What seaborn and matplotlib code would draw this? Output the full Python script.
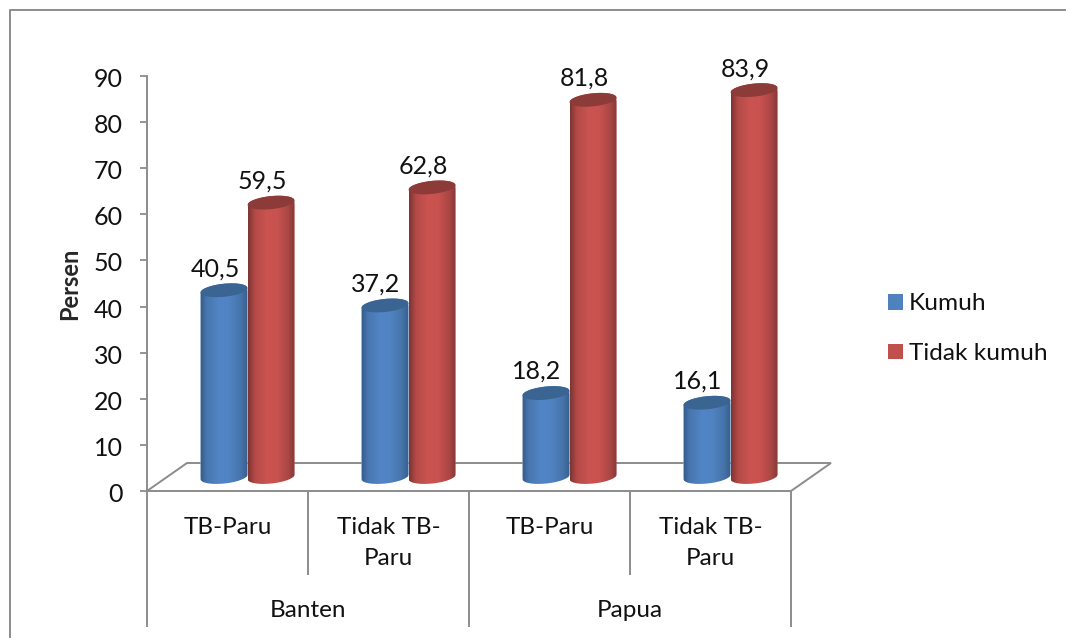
import matplotlib
matplotlib.use("Agg")
import matplotlib.pyplot as plt
import numpy as np
import pandas as pd
import seaborn as sns
from matplotlib.colors import LinearSegmentedColormap
from matplotlib.lines import Line2D
from matplotlib.patches import Patch, Polygon
from matplotlib.path import Path
from matplotlib.transforms import IdentityTransform, ScaledTranslation

provinces = ["Banten", "Papua"]
status = ["TB-Paru", "Tidak TB-\nParu", "TB-Paru", "Tidak TB-\nParu"]
kumuh = [40.5, 37.2, 18.2, 16.1]
tidak_kumuh = [59.5, 62.8, 81.8, 83.9]
series_names = ["Kumuh", "Tidak kumuh"]
y_ticks = list(range(0, 100, 10))

GREY = "#8c8c8c"
W, H = 1066, 638
AX_L, AX_R, AX_B, AX_T = 147, 791, 491, 76
SHIFT_X, SHIFT_Y = 20, 14
BASE = {"Kumuh": "#4f81bd", "Tidak kumuh": "#c0504d"}
RAMP = {
    "Kumuh": ["#345a88", "#4876ae", "#5285c6", "#5083c2", "#4674aa", "#375f8e"],
    "Tidak kumuh": ["#7d3432", "#b34a47", "#cb5451", "#c8524f", "#a84644", "#7f3634"],
}
TOP = {"Kumuh": "#3a6492", "Tidak kumuh": "#8c3b39"}
NUM_SIZE = 18
TEXT_SIZE = 17.5

sns.set_theme(style="white")
plt.rcParams["font.family"] = ["Lato", "DejaVu Sans"]
plt.rcParams["text.color"] = "#111111"
plt.rcParams["ytick.labelcolor"] = "#111111"
plt.rcParams["xtick.labelcolor"] = "#111111"

frame = pd.DataFrame({
    "slot": list(range(4)) * 2,
    "value": kumuh + tidak_kumuh,
    "series": ["Kumuh"] * 4 + ["Tidak kumuh"] * 4,
})

fig = plt.figure(figsize=(W / 100, H / 100), dpi=100)


def px_rect(left, right, bottom, top):
    return [left / W, 1 - bottom / H, (right - left) / W, (bottom - top) / H]


# Axis layer: ticks, separators and labels
ax = fig.add_axes(px_rect(AX_L, AX_R, AX_B, AX_T))
ax.set_xlim(-0.5, 3.5)
ax.set_ylim(0, 90)
ax.set_yticks(y_ticks)
ax.set_xticks(range(4))
ax.set_xticklabels(status, fontsize=TEXT_SIZE, linespacing=1.63)
ax.tick_params(axis="y", length=5.2, width=1.3, color=GREY, pad=12, labelsize=NUM_SIZE, left=True)
ax.tick_params(axis="x", length=0, pad=18.5)
nudge = ScaledTranslation(0, -1.5 / 100, fig.dpi_scale_trans)
for label in ax.get_yticklabels():
    label.set_transform(label.get_transform() + nudge)
for side in ("top", "right"):
    ax.spines[side].set_visible(False)
for side in ("left", "bottom"):
    ax.spines[side].set_color(GREY)
    ax.spines[side].set_linewidth(1.4)
ax.set_ylabel("Persen", fontsize=17, fontweight="bold", labelpad=9)

axis_y = ax.get_xaxis_transform()
for x, depth in zip(np.arange(-0.5, 4), [-136, -84, -136, -84, -136]):
    ax.plot([x, x], [0, depth / (AX_B - AX_T)], transform=axis_y, color=GREY,
            lw=1.4, clip_on=False, solid_capstyle="butt")
for pos, name in zip([0.5, 2.5], provinces):
    ax.annotate(name, xy=(pos, 0), xycoords=axis_y, xytext=(0, -86), textcoords="offset points",
                ha="center", va="center", fontsize=TEXT_SIZE)

# Floor of the plot box
corners = ax.transData.transform([(-0.5, 0), (3.5, 0)])
floor = [corners[0], corners[0] + (40, 28), corners[1] + (40, 28), corners[1]]
ax.add_patch(Polygon(floor, closed=False, fill=False, edgecolor=GREY, lw=1.4,
                     transform=IdentityTransform(), clip_on=False))

# Bar layer sits on the middle of the floor
bar_ax = fig.add_axes(px_rect(AX_L + SHIFT_X, AX_R + SHIFT_X, AX_B - SHIFT_Y, AX_T - SHIFT_Y))
bar_ax.patch.set_alpha(0)
sns.barplot(data=frame, x="slot", y="value", hue="series", hue_order=series_names,
            palette=BASE, width=0.584, gap=0, saturation=1, legend=False, ax=bar_ax)
bar_ax.set_xlim(-0.5, 3.5)
bar_ax.set_ylim(0, 90)
bar_ax.axis("off")
bar_ax.set_autoscale_on(False)

HALF_H = 6.5
TILT = np.deg2rad(6)


def ring(cx, cy, half_w, start, stop, n=40):
    theta = np.linspace(start, stop, n)
    x, y = half_w * np.cos(theta), HALF_H * np.sin(theta)
    return np.column_stack([cx + x * np.cos(TILT) - y * np.sin(TILT),
                            cy + x * np.sin(TILT) + y * np.cos(TILT)])


fig.canvas.draw()
n_bars = len(kumuh)
z = 3.0
for idx, bar in enumerate(bar_ax.patches[:2 * n_bars]):
    name = series_names[idx // n_bars]
    box = bar.get_window_extent()
    cx = (box.x0 + box.x1) / 2
    half_w = (box.x1 - box.x0) / 2
    body = np.vstack([ring(cx, box.y0, half_w, np.pi, 2 * np.pi),
                      ring(cx, box.y1, half_w, 0, np.pi)])
    outline = Path(np.vstack([body, body[:1]]), closed=True)
    bar.set_zorder(z)
    bar.set_clip_box(fig.bbox)
    bar.set_clip_path(outline, IdentityTransform())

    shade = LinearSegmentedColormap.from_list(
        name, list(zip([0, 0.14, 0.4, 0.62, 0.85, 1], RAMP[name])))
    image = bar_ax.imshow(np.linspace(0, 1, 128)[None, :], cmap=shade, aspect="auto",
                          extent=(box.x0, box.x1, box.y0 - 12, box.y1 + 12),
                          transform=IdentityTransform(), zorder=z + 0.1)
    image.set_clip_box(fig.bbox)
    image.set_clip_path(outline, IdentityTransform())

    cap = ring(cx, box.y1, half_w, 0, 2 * np.pi, 80)
    bar_ax.add_patch(Polygon(cap, closed=True, facecolor=TOP[name], edgecolor="none",
                             transform=IdentityTransform(), zorder=z + 0.2, clip_on=False))

    value = bar.get_height()
    bar_ax.annotate(f"{value:.1f}".replace(".", ","),
                    xy=(bar.get_x() + bar.get_width() / 2, value),
                    xytext=(-6.5, 15.5), textcoords="offset points",
                    ha="center", va="center", fontsize=NUM_SIZE, zorder=20, annotation_clip=False)
    z += 1
bar_ax.set_xlim(-0.5, 3.5)
bar_ax.set_ylim(0, 90)

# Chart border, drawn only along the top and left
fig.add_artist(Line2D([9.5 / W, 9.5 / W, 1], [0, 1 - 10 / H, 1 - 10 / H], color=GREY, lw=1.4))

handles = [Patch(facecolor=BASE[n], edgecolor="none") for n in series_names]
fig.legend(handles, series_names, loc="upper left", bbox_to_anchor=(888 / W, 1 - 293.5 / H),
           frameon=False, fontsize=17.6, handlelength=0.615, handleheight=0.615,
           handletextpad=0.25, labelspacing=1.17, borderpad=0, borderaxespad=0)

fig.savefig("out.png", dpi=100)
